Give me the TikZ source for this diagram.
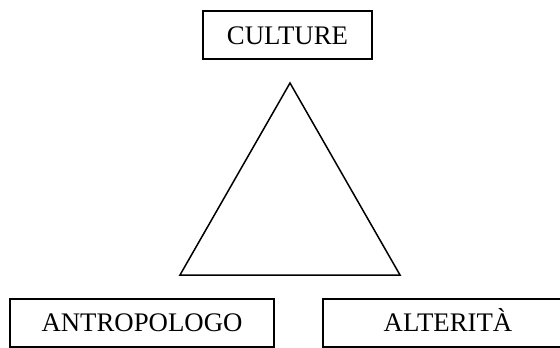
\documentclass[tikz,border=0pt]{standalone}
\usepackage{fontspec}
\setmainfont{Liberation Serif}

\begin{document}
\begin{tikzpicture}[x=0.5pt,y=-0.5pt]
    \tikzstyle{box}=[draw=black,line width=1pt,minimum height=24pt,inner sep=0pt,text height=8.6pt,text depth=0pt,font=\fontsize{13.4}{15}\selectfont]
    \tikzstyle{side}=[line width=0.75pt,line join=miter]

    \useasboundingbox (0,0) rectangle (560,347);

    \node[box,minimum width=84.5pt] (culture) at (287.5,35.5) {CULTURE};
    \node[box,minimum width=132pt] (antropologo) at (142,322.5) {ANTROPOLOGO};
    \node[box,minimum width=125pt] (alterita) at (448,322.5) {ALTERITÀ};

    \coordinate (apex) at (290,83);
    \coordinate (left) at (180,275);
    \coordinate (right) at (400,275);
    \draw[side] (apex) -- (left) -- (right) -- cycle;
\end{tikzpicture}
\end{document}
